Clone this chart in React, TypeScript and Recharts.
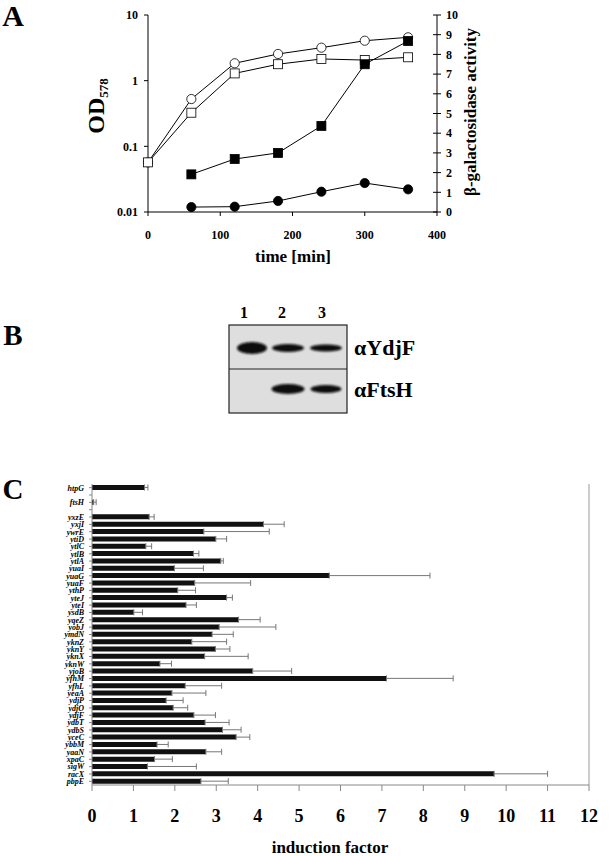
import React from "react";
import {
  ComposedChart,
  Line,
  XAxis,
  YAxis,
  BarChart,
  Bar,
  ErrorBar,
  ReferenceLine,
} from "recharts";

const FONT = '"Liberation Serif", "Times New Roman", serif';

// Panel A: growth (OD578, log) and beta-galactosidase activity
const times = [0, 60, 120, 180, 240, 300, 360];
const odCircle = [0.057, 0.525, 1.84, 2.55, 3.18, 4.06, 4.57];
const odSquare = [0.057, 0.325, 1.29, 1.78, 2.14, 2.06, 2.27];
const galSquare = [null, 1.91, 2.69, 3.0, 4.37, 7.5, 8.68];
const galCircle = [null, 0.25, 0.27, 0.56, 1.03, 1.47, 1.15];
const timeTicks = [0, 100, 200, 300, 400];
const odTicks = [0.01, 0.1, 1, 10];
const galTicks = [0, 1, 2, 3, 4, 5, 6, 7, 8, 9, 10];

// Panel B: western blot bands (row 0 = aYdjF, row 1 = aFtsH)
const lanes = ["1", "2", "3"];
const blotRows = ["\u03b1YdjF", "\u03b1FtsH"];
const bands = [
  { row: 0, lane: 0, w: 30, h: 12 },
  { row: 0, lane: 1, w: 32, h: 8 },
  { row: 0, lane: 2, w: 32, h: 7 },
  { row: 1, lane: 1, w: 33, h: 10 },
  { row: 1, lane: 2, w: 31, h: 8 },
];

// Panel C: induction factors
const genes = [
  "htpG", "", "ftsH", " ",
  "yxzE", "yxjI", "ywrE", "ytiD", "ytlC", "ytlB", "ytlA", "yuaI", "yuaG", "yuaF",
  "ythP", "yteJ", "yteI", "ysdB", "yqeZ", "yobJ", "ymdN", "yknZ", "yknY", "yknX",
  "yknW", "yjoB", "yfhM", "yfhL", "yeaA", "ydjP", "ydjO", "ydjF", "ydbT", "ydbS",
  "yceC", "ybbM", "yaaN", "xpaC", "sigW", "racX", "pbpE",
];
const induction = [
  1.27, null, 0.04, null,
  1.38, 4.14, 2.7, 2.99, 1.3, 2.45, 3.11, 1.99, 5.73, 2.48,
  2.07, 3.25, 2.27, 1.01, 3.54, 3.07, 2.9, 2.41, 2.98, 2.72,
  1.64, 3.88, 7.11, 2.25, 1.93, 1.79, 1.96, 2.46, 2.73, 3.15,
  3.48, 1.57, 2.75, 1.51, 1.34, 9.71, 2.63,
];
const inductionErr = [
  0.08, null, 0.06, null,
  0.12, 0.5, 1.58, 0.26, 0.14, 0.13, 0.06, 0.7, 2.43, 1.35,
  0.43, 0.14, 0.25, 0.21, 0.52, 1.37, 0.51, 0.84, 0.35, 1.05,
  0.28, 0.94, 1.61, 0.88, 0.82, 0.41, 0.35, 0.52, 0.58, 0.45,
  0.33, 0.27, 0.38, 0.43, 1.18, 1.29, 0.66,
];
const inductionTicks = [0, 1, 2, 3, 4, 5, 6, 7, 8, 9, 10, 11, 12];

const growthData = times.map((t, i) => ({
  time: t,
  odCircle: odCircle[i],
  odSquare: odSquare[i],
  galSquare: galSquare[i],
  galCircle: galCircle[i],
}));

// the lower half of each error bar is hidden inside the black bar, so only draw the upper half
const inductionData = genes.map((g, i) => ({
  gene: g,
  value: induction[i],
  err: inductionErr[i] == null ? null : [0, inductionErr[i]],
}));

function Txt({ x, y, size, children, weight = "bold", rotate = 0, style = {} }: any) {
  return (
    <div
      style={{
        position: "absolute",
        left: x,
        top: y,
        transform: `translate(-50%, -50%) rotate(${rotate}deg)`,
        fontFamily: FONT,
        fontSize: size,
        fontWeight: weight,
        lineHeight: 1,
        whiteSpace: "nowrap",
        color: "#000",
        ...style,
      }}
    >
      {children}
    </div>
  );
}

function makeDot(kind: string) {
  return (props: any) => {
    const { cx, cy, value, index } = props;
    if (cx == null || cy == null || value == null) return <g key={`e${index}`} />;
    const filled = kind.startsWith("filled");
    const fill = filled ? "#000" : "#fff";
    if (kind.endsWith("square")) {
      return (
        <rect key={`d${index}`} x={cx - 4.5} y={cy - 4.5} width={9} height={9} fill={fill} stroke="#000" strokeWidth={0.8} />
      );
    }
    return <circle key={`d${index}`} cx={cx} cy={cy} r={4.6} fill={fill} stroke="#000" strokeWidth={0.8} />;
  };
}

function RightTick(props: any) {
  const { x, y, payload } = props;
  return (
    <g>
      <line x1={x - 4} x2={x + 4} y1={y} y2={y} stroke="#000" strokeWidth={1} />
      <text x={x + 9} y={y} dy="0.35em" textAnchor="start" fontFamily={FONT} fontSize={12} fontWeight="bold" fill="#000">
        {payload.value}
      </text>
    </g>
  );
}

const tickA = { fill: "#000", fontSize: 12, fontWeight: "bold", fontFamily: FONT };

function PanelA() {
  return (
    <div style={{ position: "absolute", left: 0, top: 0 }}>
      <ComposedChart width={615} height={270} data={growthData} margin={{ top: 15, right: 138, left: 108, bottom: 28 }}>
        <XAxis
          dataKey="time"
          type="number"
          domain={[0, 400]}
          ticks={timeTicks}
          interval={0}
          height={30}
          stroke="#000"
          tick={tickA}
          tickSize={4}
          tickMargin={14}
        />
        <YAxis
          yAxisId="od"
          scale="log"
          domain={[0.01, 10]}
          ticks={odTicks}
          interval={0}
          allowDataOverflow
          width={40}
          stroke="#000"
          tick={tickA}
          tickSize={4}
          tickMargin={6}
          tickFormatter={(v: number) => String(v)}
        />
        <YAxis
          yAxisId="gal"
          orientation="right"
          domain={[0, 10]}
          ticks={galTicks}
          interval={0}
          width={40}
          stroke="#000"
          tickLine={false}
          tickSize={0}
          tickMargin={0}
          tick={<RightTick />}
        />
        <Line yAxisId="od" dataKey="odCircle" type="linear" stroke="#000" strokeWidth={1} dot={makeDot("open-circle")} isAnimationActive={false} />
        <Line yAxisId="od" dataKey="odSquare" type="linear" stroke="#000" strokeWidth={1} dot={makeDot("open-square")} isAnimationActive={false} />
        <Line yAxisId="gal" dataKey="galSquare" type="linear" stroke="#000" strokeWidth={1} dot={makeDot("filled-square")} isAnimationActive={false} />
        <Line yAxisId="gal" dataKey="galCircle" type="linear" stroke="#000" strokeWidth={1} dot={makeDot("filled-circle")} isAnimationActive={false} />
      </ComposedChart>
      <Txt x={97} y={106} size={24} rotate={-90}>
        OD<sub style={{ fontSize: 13, verticalAlign: "-0.25em" }}>578</sub>
      </Txt>
      <Txt x={293} y={256} size={17}>time [min]</Txt>
      <Txt x={470} y={112} size={17} rotate={-90}>{"\u03b2-galactosidase activity"}</Txt>
    </div>
  );
}

function PanelB() {
  const left = 229;
  const top = 325;
  const w = 118;
  const rowH = 44;
  const laneX = [23, 59, 97];
  const rowY = [23, 64];
  return (
    <div style={{ position: "absolute", left: 0, top: 0 }}>
      <svg width={130} height={100} style={{ position: "absolute", left: left - 4, top: top - 4 }}>
        <defs>
          <filter id="blur" x="-30%" y="-60%" width="160%" height="220%">
            <feGaussianBlur stdDeviation={1.3} />
          </filter>
        </defs>
        <rect x={4} y={4} width={w} height={rowH * 2} fill="#dedede" stroke="#222" strokeWidth={1.2} />
        <line x1={4} x2={4 + w} y1={4 + rowH} y2={4 + rowH} stroke="#222" strokeWidth={1.2} />
        {bands.map((b, i) => (
          <ellipse
            key={i}
            cx={4 + laneX[b.lane]}
            cy={4 + rowY[b.row]}
            rx={b.w / 2}
            ry={b.h / 2}
            fill="#0b0b0b"
            filter="url(#blur)"
          />
        ))}
      </svg>
      {lanes.map((l, i) => (
        <Txt key={l} x={left + laneX[i] - 8 + i * 2} y={313} size={16}>{l}</Txt>
      ))}
      {blotRows.map((r, i) => (
        <div
          key={r}
          style={{
            position: "absolute",
            left: 354,
            top: 348 + i * 42,
            transform: "translateY(-50%)",
            fontFamily: FONT,
            fontSize: 22,
            fontWeight: "bold",
            lineHeight: 1,
            whiteSpace: "nowrap",
          }}
        >
          {r}
        </div>
      ))}
    </div>
  );
}

function PanelC() {
  return (
    <div style={{ position: "absolute", left: 0, top: 470 }}>
      <BarChart
        layout="vertical"
        width={615}
        height={386}
        data={inductionData}
        margin={{ top: 14, right: 26, left: 42, bottom: 26 }}
        barCategoryGap={1}
      >
        <XAxis
          type="number"
          domain={[0, 12]}
          ticks={inductionTicks}
          interval={0}
          height={45}
          axisLine={{ stroke: "#888" }}
          tickLine={{ stroke: "#888" }}
          tickSize={6}
          tickMargin={18}
          tick={{ fill: "#000", fontSize: 18, fontWeight: "bold", fontFamily: FONT }}
        />
        <XAxis
          xAxisId="top"
          orientation="top"
          type="number"
          domain={[0, 12]}
          height={0}
          tick={false}
          tickLine={false}
          axisLine={{ stroke: "#999" }}
        />
        <YAxis
          type="category"
          dataKey="gene"
          width={50}
          interval={0}
          axisLine={{ stroke: "#888" }}
          tickLine={{ stroke: "#888" }}
          tickSize={3}
          tickMargin={5}
          tick={{ fill: "#000", fontSize: 8, fontStyle: "italic", fontWeight: "bold", fontFamily: FONT }}
        />
        <ReferenceLine x={12} stroke="#999" />
        <Bar dataKey="value" fill="#111" barSize={5} isAnimationActive={false}>
          <ErrorBar dataKey="err" direction="x" width={3} stroke="#777" strokeWidth={1} />
        </Bar>
      </BarChart>
      <Txt x={330} y={377} size={17}>induction factor</Txt>
    </div>
  );
}

export default function App() {
  return (
    <div style={{ position: "absolute", left: 0, top: 0, width: 615, height: 856, background: "#fff", overflow: "hidden" }}>
      <Txt x={13} y={16} size={30}>A</Txt>
      <Txt x={13} y={335} size={29}>B</Txt>
      <Txt x={13} y={489} size={29}>C</Txt>
      <PanelA />
      <PanelB />
      <PanelC />
    </div>
  );
}
